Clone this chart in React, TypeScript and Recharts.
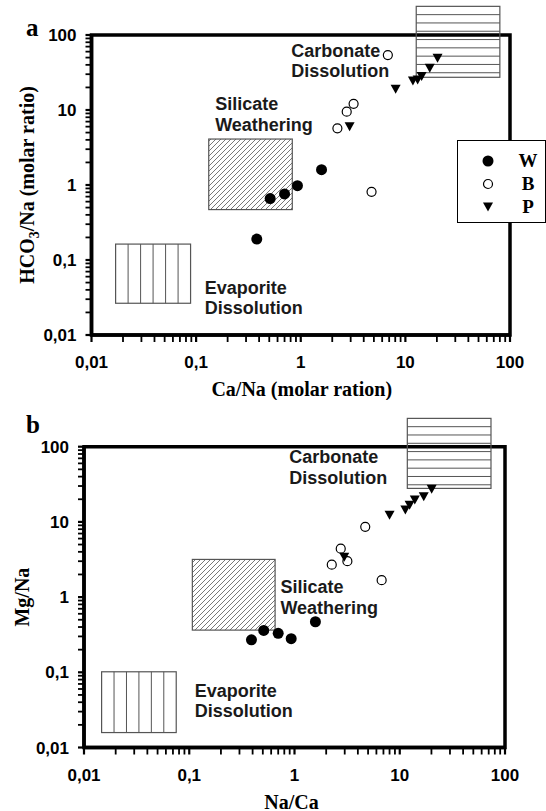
import { ScatterChart, Scatter, XAxis, YAxis, ReferenceArea, ReferenceDot, Legend } from 'recharts';

const SANS = '"Liberation Sans", Arial, sans-serif';
const SERIF = '"Liberation Serif", "Times New Roman", serif';

// axis ticks (log decades)
const majorTicks = [0.01, 0.1, 1, 10, 100];
const majorLabels = ['0,01', '0,1', '1', '10', '100'];
const minorSteps = [2, 3, 4, 5, 6, 7, 8, 9];

// panel a : Ca/Na vs HCO3/Na
const caNaW = [0.38, 0.51, 0.7, 0.93, 1.58];
const hco3NaW = [0.19, 0.66, 0.76, 0.98, 1.6];
const caNaB = [6.8, 3.2, 2.75, 2.24, 4.75];
const hco3NaB = [54, 12.1, 9.5, 5.7, 0.81];
const caNaP = [2.93, 8.07, 11.8, 13.1, 14.3, 17.1, 20.3];
const hco3NaP = [6.0, 18.9, 24.4, 25.2, 27.9, 36, 49];

// panel b : Na/Ca vs Mg/Na
const naCaW = [0.39, 0.51, 0.7, 0.93, 1.58];
const mgNaW = [0.27, 0.36, 0.33, 0.28, 0.47];
const naCaB = [4.7, 2.75, 2.26, 3.18, 6.73];
const mgNaB = [8.6, 4.4, 2.7, 3.0, 1.68];
const naCaP = [2.97, 8.0, 11.3, 12.4, 13.9, 16.9, 20.1];
const mgNaP = [3.4, 12.3, 14.4, 16.7, 19.5, 21.6, 27.1];

// end-member boxes [x1, x2, y1, y2]
const evapA = [0.017, 0.0885, 0.0265, 0.163];
const silA = [0.132, 0.83, 0.47, 4.1];
const carbA = [12.7, 80, 27.3, 241];
const evapB = [0.0147, 0.0752, 0.0158, 0.1016];
const silB = [0.107, 0.654, 0.364, 3.17];
const carbB = [11.8, 73.6, 27.9, 238];

// annotation anchors [x, y] (first line baseline)
const noteCarbA = [0.81, 51.5];
const noteSilA = [0.152, 10.0];
const noteEvapA = [0.121, 0.0348];
const noteCarbB = [0.89, 61];
const noteSilB = [0.735, 1.12];
const noteEvapB = [0.113, 0.047];

const seriesNames = ['W', 'B', 'P'];

const toPts = (xs: number[], ys: number[]) => xs.map((x, i) => ({ x, y: ys[i] }));

const allTicks = [
  ...majorTicks,
  ...majorTicks.slice(0, -1).flatMap(m => minorSteps.map(s => +(m * s).toPrecision(3))),
];
const majorIndex = (v: number) => majorTicks.findIndex(m => Math.abs(m - v) < m * 1e-6);

function XTick(props: any) {
  const { x, y, payload } = props;
  const i = majorIndex(payload.value);
  return (
    <g>
      <line x1={x} x2={x} y1={y} y2={y + 7} stroke="#000" strokeWidth={i >= 0 ? 2.2 : 1.8} />
      {i >= 0 && (
        <text x={x} y={y + 33} textAnchor="middle" fontFamily={SANS} fontWeight="bold" fontSize={17} fill="#000">
          {majorLabels[i]}
        </text>
      )}
    </g>
  );
}

function YTick(props: any) {
  const { x, y, payload } = props;
  const i = majorIndex(payload.value);
  return (
    <g>
      <line x1={x - 6} x2={x} y1={y} y2={y} stroke="#000" strokeWidth={i >= 0 ? 2.2 : 1.8} />
      {i >= 0 && (
        <text x={x - 15} y={y + 6} textAnchor="end" fontFamily={SANS} fontWeight="bold" fontSize={17} fill="#000">
          {majorLabels[i]}
        </text>
      )}
    </g>
  );
}

const filledDot = (p: any) => <circle cx={p.cx} cy={p.cy} r={5.5} fill="#000" />;
const openDot = (p: any) => <circle cx={p.cx} cy={p.cy} r={4.5} fill="#fff" stroke="#000" strokeWidth={1.2} />;
const downTri = (p: any) => (
  <path d={`M${p.cx - 5},${p.cy - 4.5}L${p.cx + 5},${p.cy - 4.5}L${p.cx},${p.cy + 4.5}Z`} fill="#000" />
);

const vlineBox = (cols: number) => (p: any) => {
  const { x, y, width, height } = p;
  const step = width / cols;
  return (
    <g>
      <rect x={x} y={y} width={width} height={height} fill="none" stroke="#555" strokeWidth={1.2} />
      {Array.from({ length: cols - 1 }, (_, k) => (
        <line key={k} x1={x + step * (k + 1)} x2={x + step * (k + 1)} y1={y} y2={y + height} stroke="#555" strokeWidth={1} />
      ))}
    </g>
  );
};

const hlineBox = (gap: number) => (p: any) => {
  const { x, y, width, height } = p;
  const n = Math.floor(height / gap);
  return (
    <g>
      <rect x={x} y={y} width={width} height={height} fill="none" stroke="#555" strokeWidth={1.2} />
      {Array.from({ length: n }, (_, k) => (
        <line key={k} x1={x} x2={x + width} y1={y + gap * (k + 1)} y2={y + gap * (k + 1)} stroke="#555" strokeWidth={1} />
      ))}
    </g>
  );
};

const hatchBox = (id: string) => (p: any) => {
  const { x, y, width, height } = p;
  return (
    <g>
      <defs>
        <pattern id={id} patternUnits="userSpaceOnUse" width={5} height={5}>
          <path d="M-1,1 L1,-1 M0,5 L5,0 M4,6 L6,4" stroke="#555" strokeWidth={0.8} />
        </pattern>
      </defs>
      <rect x={x} y={y} width={width} height={height} fill={`url(#${id})`} stroke="#555" strokeWidth={1.2} />
    </g>
  );
};

const noteShape = (lines: string[], gap: number) => (p: any) => (
  <text x={p.cx} y={p.cy} fontFamily={SANS} fontWeight="bold" fontSize={18} fill="#1a1a1a">
    {lines.map((l, i) => (
      <tspan key={i} x={p.cx} dy={i === 0 ? 0 : gap}>
        {l}
      </tspan>
    ))}
  </text>
);

function LegendBox() {
  const shapes = [
    <circle cx={6} cy={6} r={5.5} fill="#000" />,
    <circle cx={6} cy={6} r={4.5} fill="#fff" stroke="#000" strokeWidth={1.2} />,
    <path d="M1,1.5L11,1.5L6,10.5Z" fill="#000" />,
  ];
  return (
    <div
      style={{
        width: 89,
        height: 83,
        boxSizing: 'border-box',
        border: '1.5px solid #000',
        background: '#fff',
        paddingTop: 8,
      }}
    >
      {seriesNames.map((n, i) => (
        <div key={n} style={{ height: 23, display: 'flex', alignItems: 'center' }}>
          <svg width={12} height={12} style={{ marginLeft: 24 }}>
            {shapes[i]}
          </svg>
          <span
            style={{
              width: 24,
              marginLeft: 22,
              textAlign: 'center',
              fontFamily: SERIF,
              fontWeight: 'bold',
              fontSize: 19,
            }}
          >
            {n}
          </span>
        </div>
      ))}
    </div>
  );
}

type PanelProps = {
  height: number;
  margin: { top: number; right: number; bottom: number; left: number };
  yWidth: number;
  w: { x: number; y: number }[];
  b: { x: number; y: number }[];
  p: { x: number; y: number }[];
  evap: number[];
  sil: number[];
  carb: number[];
  notes: { at: number[]; lines: string[]; gap: number }[];
  id: string;
  xTitle: (vb: any) => any;
  yTitle: (vb: any) => any;
  legend?: boolean;
};

function Panel(props: PanelProps) {
  const { height, margin, yWidth, w, b, p, evap, sil, carb, notes, id } = props;
  return (
    <ScatterChart width={546} height={height} margin={margin}>
      <XAxis
        type="number"
        dataKey="x"
        scale="log"
        domain={[0.01, 100]}
        ticks={allTicks}
        interval={0}
        allowDataOverflow
        height={60}
        tickSize={0}
        tickMargin={0}
        tickLine={false}
        tick={(t: any) => <XTick {...t} />}
        axisLine={{ stroke: '#000', strokeWidth: 3.5 }}
        label={{ content: (l: any) => props.xTitle(l.viewBox) }}
      />
      <YAxis
        type="number"
        dataKey="y"
        scale="log"
        domain={[0.01, 100]}
        ticks={allTicks}
        interval={0}
        allowDataOverflow
        width={yWidth}
        tickSize={0}
        tickMargin={0}
        tickLine={false}
        tick={(t: any) => <YTick {...t} />}
        axisLine={{ stroke: '#000', strokeWidth: 3.5 }}
        label={{ content: (l: any) => props.yTitle(l.viewBox) }}
      />
      <ReferenceArea x1={0.01} x2={100} y1={0.01} y2={100} fill="none" stroke="#000" strokeWidth={3.5} ifOverflow="visible" />
      <ReferenceArea x1={evap[0]} x2={evap[1]} y1={evap[2]} y2={evap[3]} ifOverflow="visible" shape={vlineBox(6)} />
      <ReferenceArea x1={sil[0]} x2={sil[1]} y1={sil[2]} y2={sil[3]} ifOverflow="visible" shape={hatchBox('hatch-' + id)} />
      <ReferenceArea x1={carb[0]} x2={carb[1]} y1={carb[2]} y2={carb[3]} ifOverflow="visible" shape={hlineBox(8.3)} />
      {notes.map((n, i) => (
        <ReferenceDot key={i} x={n.at[0]} y={n.at[1]} r={0} ifOverflow="visible" shape={noteShape(n.lines, n.gap)} />
      ))}
      <Scatter name="W" data={w} shape={filledDot} isAnimationActive={false} />
      <Scatter name="B" data={b} shape={openDot} isAnimationActive={false} />
      <Scatter name="P" data={p} shape={downTri} isAnimationActive={false} />
      {props.legend && (
        <Legend
          layout="vertical"
          align="center"
          verticalAlign="middle"
          wrapperStyle={{ left: 457, top: 140, width: 89, height: 83 }}
          content={() => <LegendBox />}
        />
      )}
    </ScatterChart>
  );
}

const titleStyle = { fontFamily: SERIF, fontWeight: 'bold' as const, fontSize: 20, fill: '#000' };

export default function App() {
  return (
    <div style={{ position: 'absolute', left: 0, top: 0, width: 546, height: 811, background: '#fff' }}>
      <div style={{ position: 'absolute', left: 0, top: 0 }}>
        <Panel
          id="a"
          height={400}
          margin={{ top: 35, right: 36, bottom: 5, left: 0 }}
          yWidth={91.5}
          w={toPts(caNaW, hco3NaW)}
          b={toPts(caNaB, hco3NaB)}
          p={toPts(caNaP, hco3NaP)}
          evap={evapA}
          sil={silA}
          carb={carbA}
          notes={[
            { at: noteCarbA, lines: ['Carbonate', 'Dissolution'], gap: 20.7 },
            { at: noteSilA, lines: ['Silicate', 'Weathering'], gap: 20.7 },
            { at: noteEvapA, lines: ['Evaporite', 'Dissolution'], gap: 20 },
          ]}
          legend
          xTitle={(vb: any) => (
            <text x={vb.x + vb.width / 2 + 1} y={vb.y + 61} textAnchor="middle" {...titleStyle}>
              Ca/Na (molar ration)
            </text>
          )}
          yTitle={(vb: any) => (
            <text transform={`translate(${vb.x + 34},${vb.y + vb.height / 2}) rotate(-90)`} textAnchor="middle" {...titleStyle}>
              HCO
              <tspan dy={5} fontSize={14}>3</tspan>
              <tspan dy={-5}>/Na (molar ratio)</tspan>
            </text>
          )}
        />
      </div>
      <div style={{ position: 'absolute', left: 0, top: 400 }}>
        <Panel
          id="b"
          height={411}
          margin={{ top: 46.7, right: 41, bottom: 3.5, left: 0 }}
          yWidth={84}
          w={toPts(naCaW, mgNaW)}
          b={toPts(naCaB, mgNaB)}
          p={toPts(naCaP, mgNaP)}
          evap={evapB}
          sil={silB}
          carb={carbB}
          notes={[
            { at: noteCarbB, lines: ['Carbonate', 'Dissolution'], gap: 20.7 },
            { at: noteSilB, lines: ['Silicate', 'Weathering'], gap: 20.7 },
            { at: noteEvapB, lines: ['Evaporite', 'Dissolution'], gap: 20 },
          ]}
          xTitle={(vb: any) => (
            <text x={vb.x + vb.width / 2 - 3} y={vb.y + 61} textAnchor="middle" {...titleStyle}>
              Na/Ca
            </text>
          )}
          yTitle={(vb: any) => (
            <text transform={`translate(${vb.x + 29},${vb.y + vb.height / 2}) rotate(-90)`} textAnchor="middle" {...titleStyle}>
              Mg/Na
            </text>
          )}
        />
      </div>
      <svg width={546} height={811} style={{ position: 'absolute', left: 0, top: 0, pointerEvents: 'none' }}>
        <text x={26} y={36} fontFamily={SERIF} fontWeight="bold" fontSize={25}>a</text>
        <text x={26} y={433} fontFamily={SERIF} fontWeight="bold" fontSize={25}>b</text>
      </svg>
    </div>
  );
}
